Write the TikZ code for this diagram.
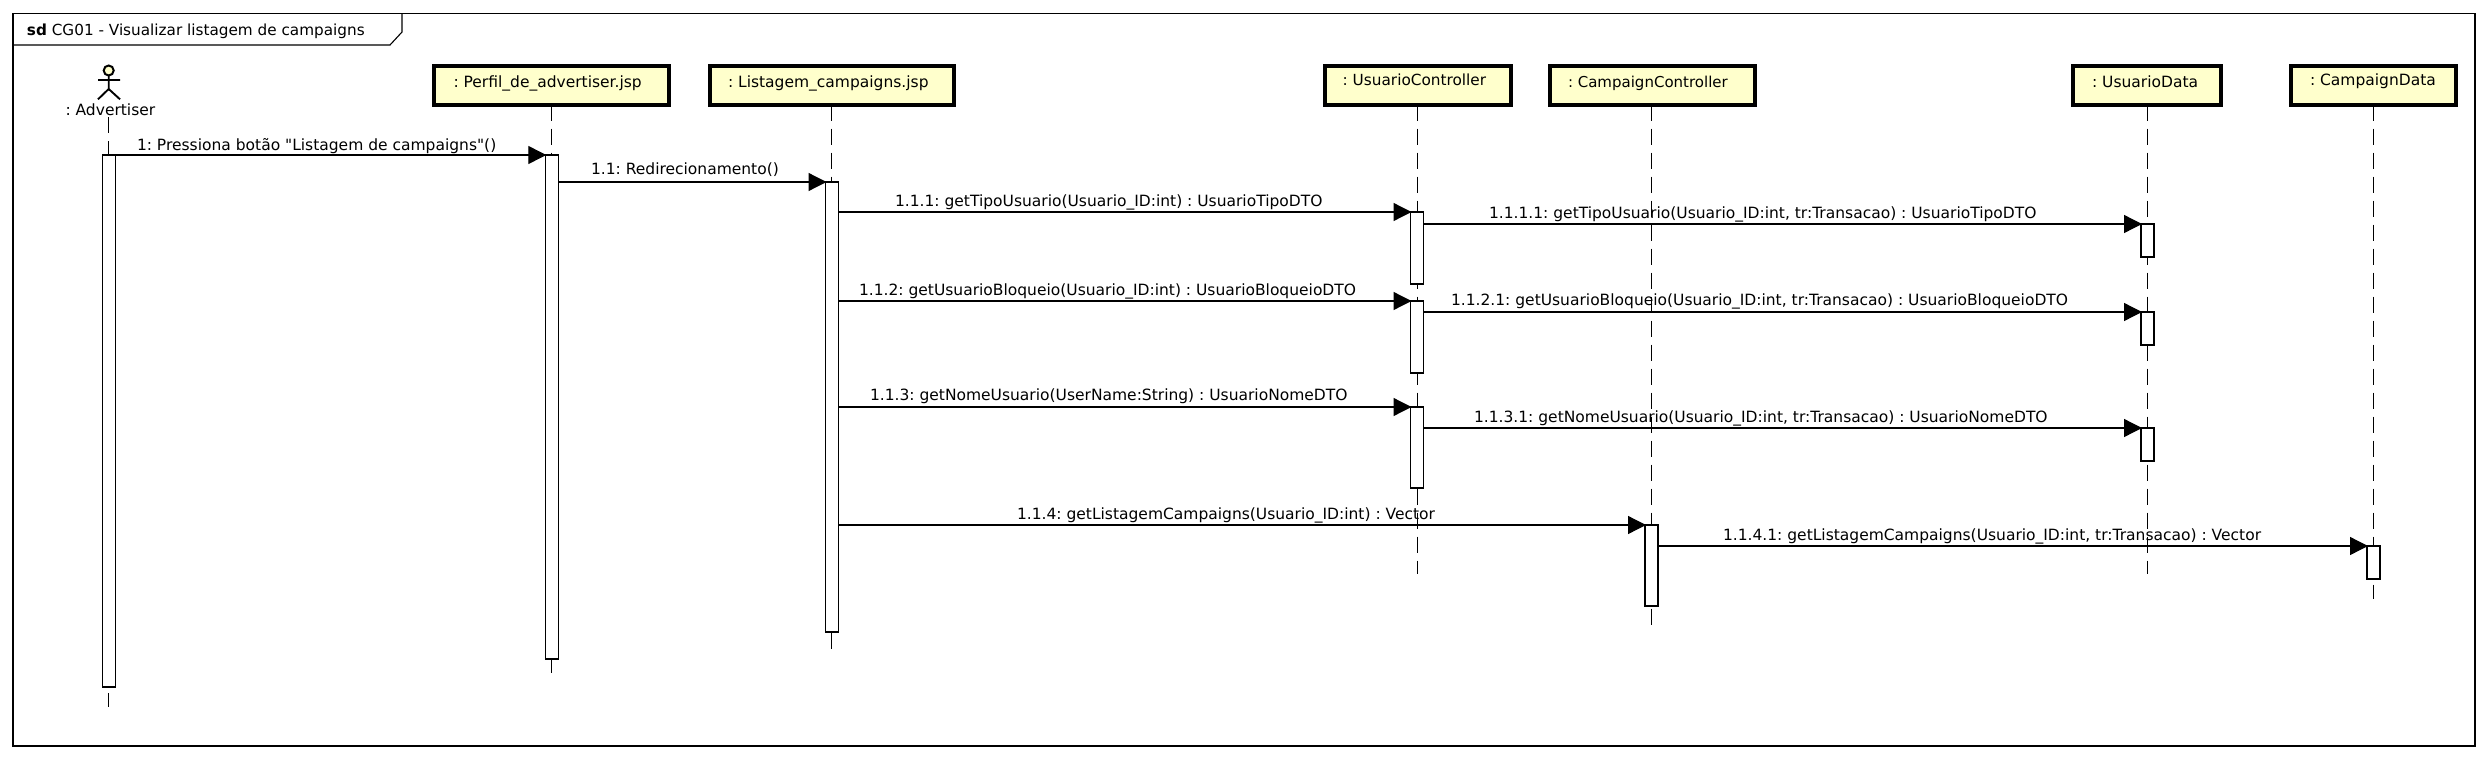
\documentclass[tikz,border=0pt]{standalone}
\usepackage{fontspec}
\setmainfont[Ligatures=TeXOff]{DejaVu Sans}
\usetikzlibrary{arrows.meta}
\definecolor{lifebg}{HTML}{FFFFCC}
\tikzset{
  x=1pt,y=-1pt,
  every node/.style={font=\fontsize{15.5}{18}\selectfont\frenchspacing,inner sep=0pt,outer sep=0pt},
  headbox/.style={draw=black,line width=4pt,fill=lifebg,minimum height=38.7pt},
  life/.style={draw=black,line width=1.1pt,dash pattern=on 16pt off 8pt},
  act/.style={draw=black,line width=1.1pt,fill=white,minimum width=13pt},
  msg/.style={draw=black,line width=1.2pt,-{Triangle[length=18pt,width=18pt]},shorten >=-1pt},
  lbl/.style={anchor=base west,text=black},
}
\newcommand{\actbox}[4]{% name, x, y1, y2
  \pgfmathsetmacro{\acth}{#4-#3}
  \node[act,minimum height=\acth pt,anchor=north] (#1) at (#2,#3) {};}
\begin{document}
\begin{tikzpicture}
\useasboundingbox (0,0) rectangle (2489,760);
\fill[white] (0,0) rectangle (2489,760);
% frame
\coordinate (fa) at (13,13.5);
\coordinate (fb) at (2475,746);
\draw[line width=1.1pt] (fa) rectangle (fb);
\draw[line width=1.1pt] (402,13.5) -- (402,32) -- (390,45) -- (13,45);
\node[lbl,font=\fontsize{15.25}{18}\selectfont\frenchspacing] (title) at (27,36) {\textbf{sd} CG01 - Visualizar listagem de campaigns};
% heads
\node[headbox,minimum width=235pt] (perfil) at (551,85.35) {};
\node[headbox,minimum width=244pt] (listagem) at (831.5,85.35) {};
\node[headbox,minimum width=186pt] (uc) at (1417.7,85.35) {};
\node[headbox,minimum width=205.3pt] (cc) at (1652.3,85.35) {};
\node[headbox,minimum width=147.5pt] (ud) at (2147,85.35) {};
\node[headbox,minimum width=165pt] (cd) at (2373.3,85.35) {};
\node[lbl] (tperfil) at (453.5,87) {: Perfil\_de\_advertiser.jsp};
\node[lbl] (tlist) at (728,87) {: Listagem\_campaigns.jsp};
\node[lbl,font=\fontsize{15.3}{18}\selectfont\frenchspacing] (tuc) at (1342.7,85) {: UsuarioController};
\node[lbl,font=\fontsize{15}{18}\selectfont\frenchspacing] (tcc) at (1568,87.3) {: CampaignController};
\node[lbl] (tud) at (2092,87) {: UsuarioData};
\node[lbl] (tcd) at (2310,85) {: CampaignData};
% actor
\node[circle,draw=black,line width=2pt,fill=lifebg,minimum size=10pt] (head) at (108.7,70.5) {};
\coordinate (armL) at (98,80); \coordinate (armR) at (120,80);
\coordinate (hip) at (108.7,89); \coordinate (legL) at (98,99.3); \coordinate (legR) at (120,99.3);
\draw[line width=1.9pt] (head.south) -- (hip) (armL) -- (armR) (legL) -- (hip) -- (legR);
\node[lbl] (tactor) at (65.5,115) {: Advertiser};
% lifeline ends
\coordinate (eactor) at (108.7,707);
\coordinate (sactor) at (108.7,117.3);
\coordinate (eperfil) at (551.5,673);
\coordinate (elist) at (831.5,649);
\coordinate (euc) at (1417.3,574);
\coordinate (ecc) at (1651.2,625);
\coordinate (eud) at (2147.5,574);
\coordinate (ecd) at (2373.3,599);
\draw[life] (sactor) -- (eactor);
\draw[life] (perfil.south -| eperfil) -- (eperfil);
\draw[life] (listagem.south -| elist) -- (elist);
\draw[life] (uc.south -| euc) -- (euc);
\draw[life] (cc.south -| ecc) -- (ecc);
\draw[life] (ud.south -| eud) -- (eud);
\draw[life] (cd.south -| ecd) -- (ecd);
% activations
\actbox{aactor}{109}{155}{687}
\actbox{aperfil}{551.8}{155}{659}
\actbox{alist}{832}{182}{632}
\actbox{auca}{1417}{212}{284}
\actbox{aucb}{1417}{301}{373}
\actbox{aucc}{1417}{407}{488}
\actbox{auda}{2147.5}{224}{257}
\actbox{audb}{2147.5}{312}{345}
\actbox{audc}{2147.5}{428}{461}
\actbox{acc}{1651.5}{525}{606}
\actbox{acd}{2373.5}{546}{579}
% messages
\draw[msg] (aperfil.north west -| aactor.east) -- (aperfil.north west);
\draw[msg] (alist.north west -| aperfil.east) -- (alist.north west);
\draw[msg] (auca.north west -| alist.east) -- (auca.north west);
\draw[msg] (auda.north west -| auca.east) -- (auda.north west);
\draw[msg] (aucb.north west -| alist.east) -- (aucb.north west);
\draw[msg] (audb.north west -| aucb.east) -- (audb.north west);
\draw[msg] (aucc.north west -| alist.east) -- (aucc.north west);
\draw[msg] (audc.north west -| aucc.east) -- (audc.north west);
\draw[msg] (acc.north west -| alist.east) -- (acc.north west);
\draw[msg] (acd.north west -| acc.east) -- (acd.north west);
% labels
\node[lbl] (m1) at (137,150) {1: Pressiona botão "Listagem de campaigns"()};
\node[lbl] (m2) at (591,174) {1.1: Redirecionamento()};
\node[lbl] (m3) at (895,206) {1.1.1: getTipoUsuario(Usuario\_ID:int) : UsuarioTipoDTO};
\node[lbl] (m4) at (1489,218) {1.1.1.1: getTipoUsuario(Usuario\_ID:int, tr:Transacao) : UsuarioTipoDTO};
\node[lbl] (m5) at (859,295) {1.1.2: getUsuarioBloqueio(Usuario\_ID:int) : UsuarioBloqueioDTO};
\node[lbl] (m6) at (1451,305) {1.1.2.1: getUsuarioBloqueio(Usuario\_ID:int, tr:Transacao) : UsuarioBloqueioDTO};
\node[lbl] (m7) at (870,400) {1.1.3: getNomeUsuario(UserName:String) : UsuarioNomeDTO};
\node[lbl] (m8) at (1474,422) {1.1.3.1: getNomeUsuario(Usuario\_ID:int, tr:Transacao) : UsuarioNomeDTO};
\node[lbl] (m9) at (1017,519) {1.1.4: getListagemCampaigns(Usuario\_ID:int) : Vector};
\node[lbl] (m10) at (1723,540) {1.1.4.1: getListagemCampaigns(Usuario\_ID:int, tr:Transacao) : Vector};
\end{tikzpicture}
\end{document}
